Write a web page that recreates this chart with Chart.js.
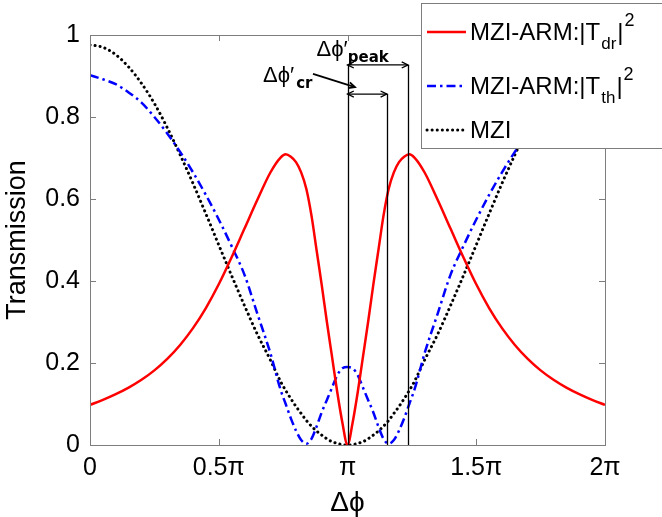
<!DOCTYPE html>
<html>
<head>
<meta charset="utf-8">
<script src="https://cdn.jsdelivr.net/npm/chart.js@4.4.1/dist/chart.umd.min.js"></script>
<style>
  html, body { margin: 0; padding: 0; background: #fff; }
  #wrap { width: 662px; height: 517px; }
</style>
</head>
<body>
<div id="wrap"><canvas id="chart" width="662" height="517"></canvas></div>
<script>
// phase difference, in units of pi
const phase = [0, 0.05, 0.1, 0.15, 0.2, 0.25, 0.3, 0.35, 0.4, 0.45, 0.5, 0.55, 0.6, 0.65, 0.7,
  0.74, 0.76, 0.78, 0.8, 0.82, 0.84, 0.86, 0.88, 0.9, 0.92, 0.94, 0.96, 0.98, 1.0,
  1.02, 1.04, 1.06, 1.08, 1.1, 1.12, 1.14, 1.16, 1.18, 1.2, 1.22, 1.24, 1.26,
  1.3, 1.35, 1.4, 1.45, 1.5, 1.55, 1.6, 1.65, 1.7, 1.75, 1.8, 1.85, 1.9, 1.95, 2.0];

// MZI-ARM |Tdr|^2
const armDrop = [0.098, 0.11, 0.124, 0.14, 0.159, 0.182, 0.21, 0.244, 0.285, 0.334, 0.392, 0.458, 0.528, 0.598, 0.664,
  0.701, 0.709, 0.703, 0.69, 0.665, 0.625, 0.56, 0.475, 0.39, 0.30, 0.215, 0.13, 0.055, 0.0,
  0.055, 0.13, 0.215, 0.30, 0.39, 0.475, 0.56, 0.625, 0.665, 0.69, 0.703, 0.709, 0.701,
  0.664, 0.598, 0.528, 0.458, 0.392, 0.334, 0.285, 0.244, 0.21, 0.182, 0.159, 0.14, 0.124, 0.11, 0.098];

// MZI-ARM |Tth|^2
const armThrough = [0.902, 0.892, 0.88, 0.86, 0.835, 0.80, 0.76, 0.715, 0.665, 0.61, 0.55, 0.485, 0.415, 0.32, 0.225,
  0.135, 0.10, 0.065, 0.035, 0.012, 0.003, 0.015, 0.045, 0.08, 0.11, 0.14, 0.17, 0.187, 0.19,
  0.187, 0.17, 0.14, 0.11, 0.08, 0.045, 0.015, 0.003, 0.012, 0.035, 0.065, 0.10, 0.135,
  0.225, 0.32, 0.415, 0.485, 0.55, 0.61, 0.665, 0.715, 0.76, 0.80, 0.835, 0.86, 0.88, 0.892, 0.902];

// plain MZI
const mziOnly = [0.976, 0.97, 0.952, 0.922, 0.882, 0.833, 0.774, 0.708, 0.638, 0.564, 0.488, 0.413, 0.34, 0.27, 0.208,
  0.155, 0.133, 0.113, 0.094, 0.077, 0.06, 0.046, 0.034, 0.024, 0.015, 0.008, 0.004, 0.001, 0,
  0.001, 0.004, 0.008, 0.015, 0.024, 0.034, 0.046, 0.06, 0.077, 0.094, 0.113, 0.133, 0.155,
  0.208, 0.27, 0.34, 0.413, 0.488, 0.564, 0.638, 0.708, 0.774, 0.833, 0.882, 0.922, 0.952, 0.97, 0.976];

const phaseTicks = [0, 0.5, 1, 1.5, 2];
const phaseTickLabels = ['0', '0.5π', 'π', '1.5π', '2π'];
const transTicks = [0, 0.2, 0.4, 0.6, 0.8, 1];

const legendMain = ['MZI-ARM:|T', 'MZI-ARM:|T', 'MZI'];
const legendSub = ['dr', 'th', ''];
const legendSup = ['2', '2', ''];

// annotation: pi, crossing, peak
const markerPhase = [1.0, 1.153, 1.235];
const markerTop = [0.927, 0.856, 0.927];
const peakLevel = 0.927;
const crLevel = 0.856;
const peakLabel = [0.88, 0.949];
const crLabel = [0.672, 0.885];
const pointerFrom = [0.866, 0.905];
const pointerTo = [1.029, 0.873];

const FONT = '"Liberation Sans", Arial, sans-serif';

function pts(ys) {
  return phase.map((p, i) => ({ x: p, y: ys[i] }));
}

function arrowHead(ctx, x0, y0, x1, y1) {
  const a = Math.atan2(y1 - y0, x1 - x0);
  const s = 7;
  ctx.beginPath();
  ctx.moveTo(x1 - s * Math.cos(a - 0.45), y1 - s * Math.sin(a - 0.45));
  ctx.lineTo(x1, y1);
  ctx.lineTo(x1 - s * Math.cos(a + 0.45), y1 - s * Math.sin(a + 0.45));
  ctx.stroke();
}

function segment(ctx, x0, y0, x1, y1) {
  ctx.beginPath();
  ctx.moveTo(x0, y0);
  ctx.lineTo(x1, y1);
  ctx.stroke();
}

const framePlugin = {
  id: 'frame',
  afterDatasetsDraw(chart) {
    const { ctx, chartArea: a, scales } = chart;
    ctx.save();
    ctx.strokeStyle = '#7d7d7d';
    ctx.lineWidth = 1;
    ctx.strokeRect(a.left + 0.5, a.top + 0.5, a.right - a.left, a.bottom - a.top);
    phaseTicks.forEach(v => {
      const x = Math.round(scales.x.getPixelForValue(v)) + 0.5;
      segment(ctx, x, a.bottom, x, a.bottom - 6);
      segment(ctx, x, a.top, x, a.top + 6);
    });
    transTicks.forEach(v => {
      const y = Math.round(scales.y.getPixelForValue(v)) + 0.5;
      segment(ctx, a.left, y, a.left + 6, y);
      segment(ctx, a.right, y, a.right - 6, y);
    });
    ctx.restore();
  }
};

const notePlugin = {
  id: 'notes',
  afterDatasetsDraw(chart) {
    const { ctx, scales } = chart;
    const px = v => scales.x.getPixelForValue(v);
    const py = v => scales.y.getPixelForValue(v);
    ctx.save();
    ctx.strokeStyle = '#000';
    ctx.fillStyle = '#000';
    ctx.lineWidth = 1.3;
    markerPhase.forEach((p, i) => {
      const x = Math.round(px(p)) + 0.5;
      segment(ctx, x, py(markerTop[i]), x, py(0));
    });
    // double arrows
    const xa = px(markerPhase[0]), xp = px(markerPhase[2]), xc = px(markerPhase[1]);
    const yp = py(peakLevel), yc = py(crLevel);
    segment(ctx, xa, yp, xp, yp);
    arrowHead(ctx, xp, yp, xa, yp);
    arrowHead(ctx, xa, yp, xp, yp);
    segment(ctx, xa, yc, xc, yc);
    arrowHead(ctx, xc, yc, xa, yc);
    arrowHead(ctx, xa, yc, xc, yc);
    // pointer
    const fx = px(pointerFrom[0]), fy = py(pointerFrom[1]);
    const tx = px(pointerTo[0]), ty = py(pointerTo[1]);
    ctx.lineWidth = 1.8;
    segment(ctx, fx, fy, tx, ty);
    arrowHead(ctx, fx, fy, tx, ty);
    // labels
    ctx.textBaseline = 'alphabetic';
    ctx.textAlign = 'left';
    ctx.font = '22px ' + FONT;
    let x = px(peakLabel[0]), y = py(peakLabel[1]);
    ctx.fillText('Δϕ′', x, y);
    let w = ctx.measureText('Δϕ′').width;
    ctx.font = 'bold 15px "DejaVu Sans", sans-serif';
    ctx.fillText('peak', x + w, y + 6);
    ctx.font = '22px ' + FONT;
    x = px(crLabel[0]); y = py(crLabel[1]);
    ctx.fillText('Δϕ′', x, y);
    w = ctx.measureText('Δϕ′').width;
    ctx.font = 'bold 15px "DejaVu Sans", sans-serif';
    ctx.fillText('cr', x + w + 2, y + 6);
    ctx.restore();
  }
};

const legendPlugin = {
  id: 'boxLegend',
  afterDraw(chart) {
    const ctx = chart.ctx;
    const rowY = [32, 86, 130];
    ctx.save();
    ctx.fillStyle = '#fff';
    ctx.fillRect(421, 3, 260, 145);
    ctx.strokeStyle = '#7d7d7d';
    ctx.lineWidth = 1;
    ctx.strokeRect(421.5, 3.5, 260, 145);
    chart.data.datasets.forEach((ds, i) => {
      const y = rowY[i];
      ctx.save();
      ctx.strokeStyle = ds.borderColor;
      ctx.lineWidth = ds.borderWidth;
      ctx.lineCap = ds.borderCapStyle || 'butt';
      ctx.setLineDash(ds.borderDash || []);
      segment(ctx, 427, y, 466, y);
      ctx.restore();
      ctx.fillStyle = '#000';
      ctx.textBaseline = 'alphabetic';
      ctx.font = '24px ' + FONT;
      let x = 470;
      const base = y + 8;
      ctx.fillText(legendMain[i], x, base);
      x += ctx.measureText(legendMain[i]).width;
      if (legendSub[i]) {
        ctx.font = '17px ' + FONT;
        ctx.fillText(legendSub[i], x + 1, base + 9);
        x += ctx.measureText(legendSub[i]).width + 2;
        ctx.font = '24px ' + FONT;
        ctx.fillText('|', x, base);
        x += ctx.measureText('|').width + 1;
        ctx.font = '18px ' + FONT;
        ctx.fillText(legendSup[i], x, base - 14);
      }
    });
    ctx.restore();
  }
};

new Chart(document.getElementById('chart'), {
  type: 'line',
  data: {
    datasets: [
      { label: 'MZI-ARM:|Tdr|^2', data: pts(armDrop), borderColor: '#ff0000', borderWidth: 2.5,
        pointRadius: 0, cubicInterpolationMode: 'monotone' },
      { label: 'MZI-ARM:|Tth|^2', data: pts(armThrough), borderColor: '#0000ff', borderWidth: 2.5,
        borderDash: [9, 4, 2.5, 4], pointRadius: 0, cubicInterpolationMode: 'monotone' },
      { label: 'MZI', data: pts(mziOnly), borderColor: '#000000', borderWidth: 3,
        borderDash: [0.1, 5], borderCapStyle: 'round', pointRadius: 0, cubicInterpolationMode: 'monotone' }
    ]
  },
  options: {
    responsive: false,
    devicePixelRatio: 1,
    animation: false,
    layout: { padding: { left: 0, right: 57, top: 35, bottom: 0 } },
    plugins: { legend: { display: false }, tooltip: { enabled: false } },
    scales: {
      x: {
        type: 'linear', min: 0, max: 2,
        afterBuildTicks: s => { s.ticks = phaseTicks.map(v => ({ value: v })); },
        afterFit: s => { s.height = 72; },
        grid: { display: false, drawTicks: false },
        border: { display: false },
        ticks: {
          color: '#000', font: { family: FONT, size: 25 }, padding: 8,
          maxRotation: 0, autoSkip: false,
          callback: v => phaseTickLabels[phaseTicks.indexOf(v)]
        },
        title: { display: true, text: 'Δϕ', color: '#000', font: { family: FONT, size: 28, lineHeight: 1 }, padding: 0 }
      },
      y: {
        min: 0, max: 1,
        afterBuildTicks: s => { s.ticks = transTicks.map(v => ({ value: v })); },
        afterFit: s => { s.width = 90; },
        grid: { display: false, drawTicks: false },
        border: { display: false },
        ticks: {
          color: '#000', font: { family: FONT, size: 25 }, padding: 10,
          callback: v => String(+v.toFixed(1))
        },
        title: { display: true, text: 'Transmission', color: '#000', font: { family: FONT, size: 27 }, padding: { top: 1, bottom: 0 } }
      }
    }
  },
  plugins: [framePlugin, notePlugin, legendPlugin]
});
</script>
</body>
</html>
